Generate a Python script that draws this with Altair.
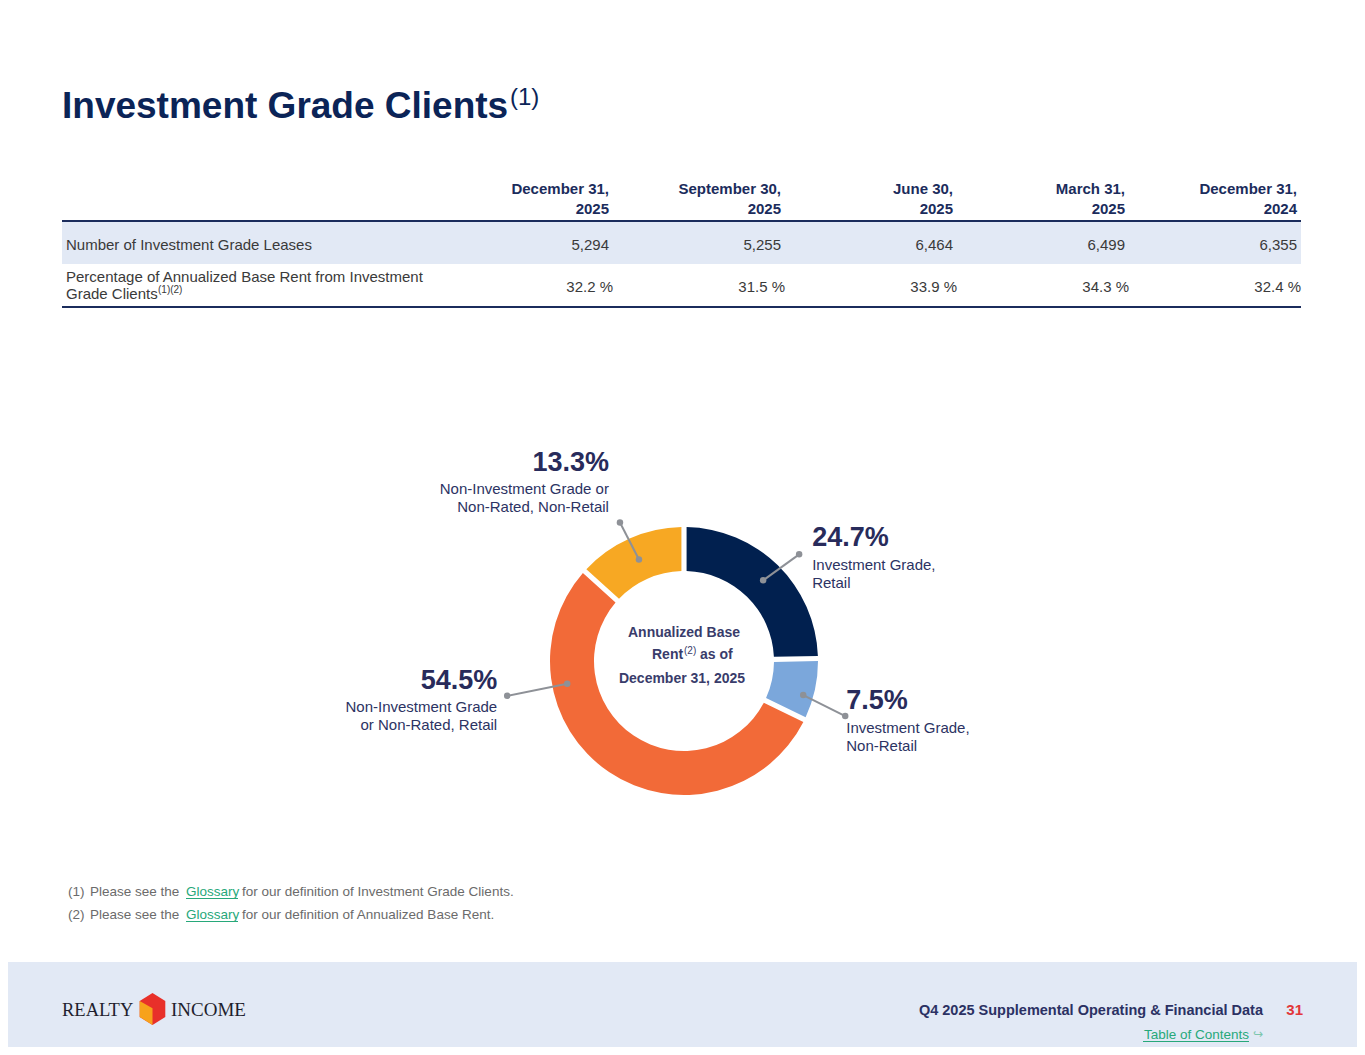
import math
import altair as alt
import pandas as pd

# ---------------- data ----------------
periods = ["December 31, 2025", "September 30, 2025", "June 30, 2025", "March 31, 2025", "December 31, 2024"]
ig_leases = [5294, 5255, 6464, 6499, 6355]
ig_abr_pct = [32.2, 31.5, 33.9, 34.3, 32.4]

segments = ["Investment Grade, Retail", "Investment Grade, Non-Retail",
            "Non-Investment Grade or Non-Rated, Retail", "Non-Investment Grade or Non-Rated, Non-Retail"]
abr_share = [24.7, 7.5, 54.5, 13.3]
seg_line1 = ["Investment Grade,", "Investment Grade,", "Non-Investment Grade", "Non-Investment Grade or"]
seg_line2 = ["Retail", "Non-Retail", "or Non-Rated, Retail", "Non-Rated, Non-Retail"]

# ---------------- style / layout ----------------
seg_colors = ["#01204f", "#7ba7db", "#f26a38", "#f7a823"]
W, H = 1349, 1039
def px(v):
    return v - 8

FONT = "Liberation Sans"
SERIF = "Liberation Serif"
TITLE = "#0b2457"
HEAD = "#1b2c5c"
BODY = "#3a3a3a"
PCT = "#282b5b"
SEG = "#2c3363"
CENTER = "#393c6b"
GREY = "#8e9197"
GREEN = "#27a87a"
BAND = "#e2e9f5"

CX, CY = px(684), px(661)
R_OUT, R_IN = 134, 90
anchor_frac = [0.5, 0.63, 0.729, 0.5]
anchor_r = [113, 124, 119, 111]
lead_dx = [36, 42, -60, -19]
lead_dy = [-26, 21, 12, -37]
label_dx = [13, 1, -10, -11]
label_dy = [-8, -7, -7, -52]
side = ["left", "left", "right", "right"]

layers = []

def txt(text, x, y, size, color, weight="normal", align="left", font=FONT):
    return alt.Chart(pd.DataFrame({"t": [text]})).mark_text(
        align=align, baseline="alphabetic", font=font, fontSize=size,
        fontWeight=weight, color=color
    ).encode(text="t:N", x=alt.value(px(x)), y=alt.value(px(y)))

def rect(x0, x1, y0, y1, color):
    return alt.Chart(pd.DataFrame({"a": [0]})).mark_rect(color=color).encode(
        x=alt.value(px(x0)), x2=alt.value(px(x1)), y=alt.value(px(y0)), y2=alt.value(px(y1)))

def hline(x0, x1, y, color, w):
    return alt.Chart(pd.DataFrame({"a": [0]})).mark_rule(color=color, strokeWidth=w).encode(
        x=alt.value(px(x0)), x2=alt.value(px(x1)), y=alt.value(px(y)))

# footer band
layers.append(rect(0, 1365, 962, 1060, BAND))

# title
layers.append(txt("Investment Grade Clients", 62, 117.5, 37, TITLE, "bold"))
layers.append(txt("(1)", 510, 105, 24, TITLE))

# ---------------- table ----------------
tbl = pd.DataFrame({
    "period": periods,
    "l1": [p.rsplit(" ", 1)[0] for p in periods],
    "l2": [p.rsplit(" ", 1)[1] for p in periods],
    "leases": [f"{v:,}" for v in ig_leases],
    "pct": [f"{v:.1f} %" for v in ig_abr_pct],
})
def colx():
    return alt.X("period:N", axis=None,
                 scale=alt.Scale(type="point", domain=periods, range=[px(609), px(1297)], padding=0))

layers.append(rect(62, 1301, 222, 264, BAND))
layers.append(hline(62, 1301, 221, HEAD, 2))
layers.append(hline(62, 1301, 307, HEAD, 2))

for field, y, weight, color, dx in [("l1", 194, "bold", HEAD, 0), ("l2", 214, "bold", HEAD, 0),
                                     ("leases", 249.5, "normal", BODY, 0), ("pct", 292, "normal", BODY, 4)]:
    layers.append(alt.Chart(tbl).mark_text(
        align="right", baseline="alphabetic", font=FONT, fontSize=15, fontWeight=weight, color=color, dx=dx
    ).encode(x=colx(), y=alt.value(px(y)), text=f"{field}:N"))

layers.append(txt("Number of Investment Grade Leases", 66, 249.5, 15, BODY))
layers.append(txt("Percentage of Annualized Base Rent from Investment", 66, 282, 15, BODY))
layers.append(txt("Grade Clients", 66, 299, 15, BODY))
layers.append(txt("(1)(2)", 158, 292.5, 10, BODY))

# ---------------- donut ----------------
cum = [sum(abr_share[:i]) for i in range(len(abr_share))]
rows = []
for i, seg in enumerate(segments):
    ang = (cum[i] + anchor_frac[i] * abr_share[i]) / 100 * 2 * math.pi
    ix = anchor_r[i] * math.sin(ang)
    iy = -anchor_r[i] * math.cos(ang)
    ox = ix + lead_dx[i]
    oy = iy + lead_dy[i]
    lx = ox + label_dx[i]
    ly = oy + label_dy[i]
    rows.append(dict(segment=seg, share=abr_share[i], ord=i, ix=ix, iy=iy, ox=ox, oy=oy,
                     lx=lx, ly=ly, l1y=ly + 23.5, l2y=ly + 41.5, side=side[i],
                     pct_txt=f"{abr_share[i]:.1f}%", line1=seg_line1[i], line2=seg_line2[i]))
sl = pd.DataFrame(rows)

xs = alt.Scale(domain=[-CX, W - CX], range=[0, W], nice=False, zero=False)
ys = alt.Scale(domain=[-CY, H - CY], range=[0, H], nice=False, zero=False)

layers.append(alt.Chart(sl).mark_arc(innerRadius=R_IN, outerRadius=R_OUT, padAngle=0.032).encode(
    theta=alt.Theta("share:Q", stack=True),
    order=alt.Order("ord:Q"),
    color=alt.Color("segment:N", scale=alt.Scale(domain=segments, range=seg_colors), legend=None),
    x=alt.value(CX), y=alt.value(CY)))

layers.append(alt.Chart(sl).mark_rule(color=GREY, strokeWidth=2).encode(
    x=alt.X("ix:Q", scale=xs, axis=None), x2="ox:Q",
    y=alt.Y("iy:Q", scale=ys, axis=None), y2="oy:Q"))
for fx, fy in [("ix", "iy"), ("ox", "oy")]:
    layers.append(alt.Chart(sl).mark_circle(color=GREY, size=42, opacity=1).encode(
        x=alt.X(f"{fx}:Q", scale=xs, axis=None), y=alt.Y(f"{fy}:Q", scale=ys, axis=None)))

for s in ["left", "right"]:
    base = alt.Chart(sl).transform_filter(alt.datum.side == s)
    layers.append(base.mark_text(align=s, baseline="alphabetic", font=FONT, fontSize=27,
                                 fontWeight="bold", color=PCT).encode(
        x=alt.X("lx:Q", scale=xs, axis=None), y=alt.Y("ly:Q", scale=ys, axis=None), text="pct_txt:N"))
    for fld, yf in [("line1", "l1y"), ("line2", "l2y")]:
        layers.append(base.mark_text(align=s, baseline="alphabetic", font=FONT, fontSize=15,
                                     color=SEG).encode(
            x=alt.X("lx:Q", scale=xs, axis=None), y=alt.Y(f"{yf}:Q", scale=ys, axis=None), text=f"{fld}:N"))

# centre text
layers.append(txt("Annualized Base", 684, 637, 14, CENTER, "bold", "center"))
layers.append(txt("Rent", 652, 659, 14, CENTER, "bold"))
layers.append(txt("(2)", 684, 654, 10, CENTER))
layers.append(txt("as of", 700, 659, 14, CENTER, "bold"))
layers.append(txt("December 31, 2025", 682, 683, 14, CENTER, "bold", "center"))

# ---------------- footnotes ----------------
FN = "#6b6b6b"
for y, rest, num in [(896, "for our definition of Investment Grade Clients.", "(1)"),
                     (919, "for our definition of Annualized Base Rent.", "(2)")]:
    layers.append(txt(num, 68, y, 13.5, FN))
    layers.append(txt("Please see the", 90, y, 13.5, FN))
    layers.append(txt("Glossary", 186, y, 13.5, GREEN))
    layers.append(hline(186, 238, y + 2.5, GREEN, 1))
    layers.append(txt(rest, 242, y, 13.5, FN))

# ---------------- footer ----------------
layers.append(txt("REALTY", 62, 1016, 18.5, "#1f1f2e", "normal", "left", SERIF))
layers.append(txt("INCOME", 171, 1016, 19, "#1f1f2e", "normal", "left", SERIF))
hexagon = "M0,-1 L0.8,-0.5 L0.8,0.5 L0,1 L-0.8,0.5 L-0.8,-0.5 Z"
leftface = "M-0.8,-0.5 L0,-0.05 L0,1 L-0.8,0.5 Z"
for shp, col in [(hexagon, "#e8302a"), (leftface, "#f7a21b")]:
    layers.append(alt.Chart(pd.DataFrame({"a": [0]})).mark_point(
        shape=shp, filled=True, fill=col, size=1024, opacity=1, strokeWidth=0).encode(
        x=alt.value(px(152.5)), y=alt.value(px(1009))))

layers.append(txt("Q4 2025 Supplemental Operating & Financial Data", 1263, 1015, 14.5, "#2b3163", "bold", "right"))
layers.append(txt("31", 1303, 1015, 15, "#e2363a", "bold", "right"))
layers.append(txt("Table of Contents", 1249, 1039, 13.5, GREEN, "normal", "right"))
layers.append(hline(1143, 1249, 1041.5, GREEN, 1))
layers.append(txt("↪", 1253, 1038, 12, "#7cc6ad", "normal", "left", "DejaVu Sans"))

chart = alt.layer(*layers).resolve_scale(x="independent", y="independent").properties(
    width=W, height=H, padding=0, autosize=alt.AutoSizeParams(type="none")
).configure_view(strokeWidth=0)

chart.save("out.html", embed_options={"renderer": "svg", "actions": False})
